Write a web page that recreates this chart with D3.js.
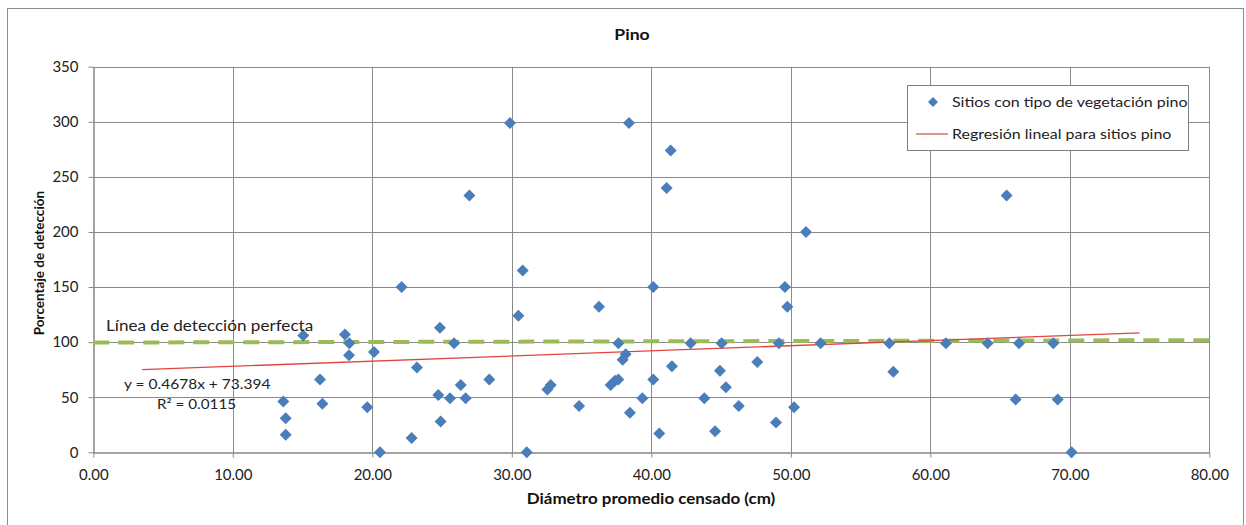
<!DOCTYPE html>
<html><head><meta charset="utf-8">
<script src="https://cdn.jsdelivr.net/npm/d3@7"></script>
<style>
body{margin:0;background:#fff;}
text{font-family:Lato,"Open Sans",sans-serif;}
</style></head>
<body><svg id="c" width="1246" height="525"></svg>
<script>
const title = "Pino";
const xLabel = "Diámetro promedio censado (cm)";
const yLabel = "Porcentaje de detección";
const seriesName = "Sitios con tipo de vegetación pino";
const regName = "Regresión lineal para sitios pino";
const perfectLabel = "Línea de detección perfecta";
const eqLabel = "y = 0.4678x + 73.394";
const r2Label = "R² = 0.0115";
const xTicks = [0,10,20,30,40,50,60,70,80];
const yTicks = [0,50,100,150,200,250,300,350];
const diam = [22.1,15.05,18.04,18.35,18.33,20.12,16.25,16.42,13.62,13.79,13.79,19.64,20.55,22.82,23.2,
  30.78,30.47,24.85,25.86,24.73,25.57,26.34,26.69,24.9,28.39,31.07,32.55,32.79,34.82,36.25,
  37.09,37.40,37.64,37.64,37.95,38.16,38.47,39.36,40.14,40.14,40.57,41.48,42.82,43.8,44.57,
  44.92,45.04,45.35,46.27,47.6,48.94,49.15,49.58,49.75,50.23,52.14,29.87,38.4,41.39,41.1,
  26.96,51.09,65.47,57.06,57.35,61.12,64.11,66.36,66.12,68.82,69.13,70.13];
const pct = [150,106,107,99,88,91,66,44,46,31,16,41,0,13,77,
  165,124,113,99,52,49,61,49,28,66,0,57,61,42,132,
  61,65,66,99,84,89,36,49,150,66,17,78,99,49,19,
  74,99,59,42,82,27,99,150,132,41,99,299,299,274,240,
  233,200,233,99,73,99,99,99,48,99,48,0];
const regX = [3.5, 75];
const slope = 0.4678, intercept = 73.394;
const perfectX = [0, 80];
const perfectY = [99.6, 101.8];

const svg = d3.select("#c");
const x = d3.scaleLinear().domain([0,80]).range([93.3,1209.3]);
const y = d3.scaleLinear().domain([0,350]).range([452.3,66.7]);

svg.append("rect").attr("x",7.5).attr("y",8.5).attr("width",1236).attr("height",530)
  .attr("fill","#fff").attr("stroke","#8c8c8c").attr("stroke-width",1);

// grid
const gridC = "#8a8a8a";
svg.append("g").selectAll("line").data(yTicks.filter(d=>d>0)).join("line")
  .attr("x1",x(0)).attr("x2",x(80)).attr("y1",d=>Math.round(y(d))+0.5).attr("y2",d=>Math.round(y(d))+0.5)
  .attr("stroke",gridC).attr("stroke-width",1);
svg.append("g").selectAll("line").data(xTicks.filter(d=>d>0)).join("line")
  .attr("y1",y(0)).attr("y2",y(350)).attr("x1",d=>Math.round(x(d))+0.5).attr("x2",d=>Math.round(x(d))+0.5)
  .attr("stroke",gridC).attr("stroke-width",1);

// axes
const xa = svg.append("g").attr("transform",`translate(0,${Math.round(y(0))+0.5})`)
  .call(d3.axisBottom(x).tickValues(xTicks).tickSize(5).tickSizeOuter(0).tickFormat(d3.format(".2f")).tickPadding(12));
const ya = svg.append("g").attr("transform",`translate(${Math.round(x(0))+0.5},0)`)
  .call(d3.axisLeft(y).tickValues(yTicks).tickSize(5).tickSizeOuter(0).tickPadding(10));
[xa,ya].forEach(a=>{
  a.select(".domain").attr("stroke","#868686").attr("stroke-width",1.5);
  a.selectAll(".tick line").attr("stroke","#868686");
  a.selectAll(".tick text").attr("fill","#222").style("font-size","15px").style("font-family","Lato,'Open Sans',sans-serif");
});

// perfect line
svg.append("line").attr("x1",x(perfectX[0])).attr("x2",x(perfectX[1]))
  .attr("y1",y(perfectY[0])).attr("y2",y(perfectY[1]))
  .attr("stroke","#9BBB59").attr("stroke-width",4).attr("stroke-dasharray","16,9");

// regression line
svg.append("line").attr("x1",x(regX[0])).attr("x2",x(regX[1]))
  .attr("y1",y(slope*regX[0]+intercept)).attr("y2",y(slope*regX[1]+intercept))
  .attr("stroke","#E0443F").attr("stroke-width",1.3);

// points
const pts = diam.map((d,i)=>[d,pct[i]]);
const diamondPath = "M0,-6L6,0L0,6L-6,0Z";
svg.append("g").selectAll("path").data(pts).join("path")
  .attr("d",diamondPath).attr("transform",d=>`translate(${x(d[0])},${y(d[1])})`)
  .attr("fill","#4A7EBB");

// texts (slight horizontal stretch like the original)
function txt(tx, ty, s, size, weight, anchor, str){
  return svg.append("text").attr("transform",`translate(${tx},${ty}) scale(${s},1)`)
    .attr("text-anchor",anchor).style("font-size",size+"px").style("font-weight",weight)
    .attr("fill", weight==="bold" ? "#111" : "#222").text(str);
}
txt(632,40,1.1,16,"bold","middle",title);
txt(651,504,1.13,15,"bold","middle",xLabel);
svg.append("text").attr("transform","translate(44,263) rotate(-90)").attr("text-anchor","middle")
  .style("font-size","13.5px").style("font-weight","bold").attr("fill","#111").text(yLabel);
txt(106,331,1.14,15,"normal","start",perfectLabel);
txt(124,389,1.15,13.5,"normal","start",eqLabel);
txt(157,409,1.13,13.5,"normal","start",r2Label);

// legend
const lg = svg.append("g");
lg.append("rect").attr("x",907.5).attr("y",85.5).attr("width",281).attr("height",65)
  .attr("fill","#fff").attr("stroke","#7f7f7f");
lg.append("path").attr("d","M0,-5L5,0L0,5L-5,0Z").attr("transform","translate(933,102)").attr("fill","#4A7EBB");
txt(952,107,1.14,14,"normal","start",seriesName);
lg.append("line").attr("x1",916).attr("x2",948).attr("y1",134).attr("y2",134).attr("stroke","#C0504D").attr("stroke-width",1.2);
txt(952,139,1.14,14,"normal","start",regName);
</script></body></html>
